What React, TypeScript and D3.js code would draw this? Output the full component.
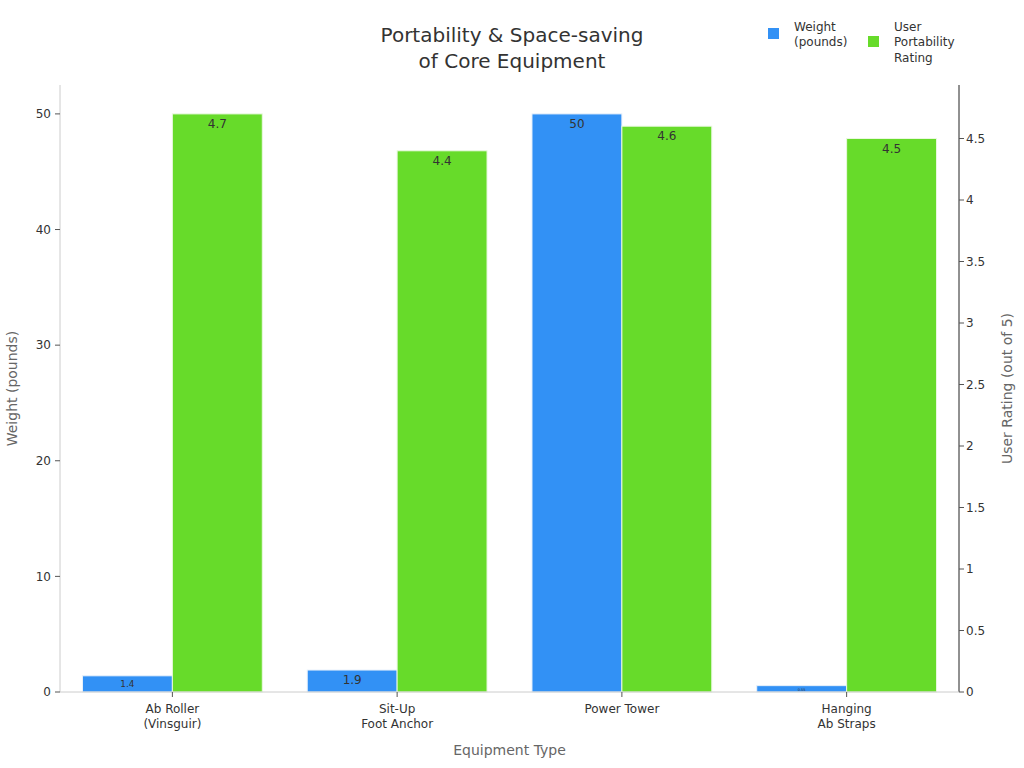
import React from "react";
import * as d3 from "d3";

const categories = ["Ab Roller\n(Vinsguir)", "Sit-Up\nFoot Anchor", "Power Tower", "Hanging\nAb Straps"];
const weights = [1.4, 1.9, 50, 0.55];
const ratings = [4.7, 4.4, 4.6, 4.5];
const leftTicks = [0, 10, 20, 30, 40, 50];
const rightTicks = [0, 0.5, 1, 1.5, 2, 2.5, 3, 3.5, 4, 4.5];

const W = 1024;
const H = 768;
const M = { top: 85, right: 65, bottom: 76, left: 60 };
const BLUE = "#3291f5";
const GREEN = "#67db2a";
const FONT = "DejaVu Sans, sans-serif";

const App: React.FC = () => {
  const x0 = d3.scaleBand<string>().domain(categories).range([M.left, W - M.right]).paddingInner(0.2).paddingOuter(0.1);
  const x1 = d3.scaleBand<string>().domain(["w", "r"]).range([0, x0.bandwidth()]);
  const yL = d3.scaleLinear().domain([0, d3.max(weights)! * 1.05]).range([H - M.bottom, M.top]);
  const yR = d3.scaleLinear().domain([0, d3.max(ratings)! * 1.05]).range([H - M.bottom, M.top]);
  const base = H - M.bottom;

  const label = (v: number, xPos: number, y: number, key: string) => {
    const h = base - y;
    const fs = Math.min(12, h * 0.55);
    return (
      <text key={key} x={xPos} y={y + fs + 2} textAnchor="middle" fontSize={fs} fill="#333" fontFamily={FONT}>
        {v}
      </text>
    );
  };

  return (
    <svg width={W} height={H} style={{ position: "absolute", left: 0, top: 0, background: "#fff" }} fontFamily={FONT}>
      <text x={512} y={42} textAnchor="middle" fontSize={20} fill="#333">Portability &amp; Space-saving</text>
      <text x={512} y={68} textAnchor="middle" fontSize={20} fill="#333">of Core Equipment</text>

      {/* legend */}
      <rect x={768} y={28} width={11} height={11} fill={BLUE} />
      <text x={794} y={31} fontSize={12} fill="#333">Weight</text>
      <text x={794} y={46} fontSize={12} fill="#333">(pounds)</text>
      <rect x={868} y={36} width={11} height={11} fill={GREEN} />
      <text x={894} y={31} fontSize={12} fill="#333">User</text>
      <text x={894} y={46} fontSize={12} fill="#333">Portability</text>
      <text x={894} y={62} fontSize={12} fill="#333">Rating</text>

      {/* bars */}
      {categories.map((c, i) => {
        const bx = x0(c)!;
        const yw = yL(weights[i]);
        const yr = yR(ratings[i]);
        return (
          <g key={c}>
            <rect x={bx + x1("w")!} y={yw} width={x1.bandwidth()} height={base - yw} fill={BLUE} stroke="#e8f1fb" strokeWidth={1} />
            <rect x={bx + x1("r")!} y={yr} width={x1.bandwidth()} height={base - yr} fill={GREEN} stroke="#e9f8df" strokeWidth={1} />
            {label(weights[i], bx + x1("w")! + x1.bandwidth() / 2, yw, "lw" + i)}
            {label(ratings[i], bx + x1("r")! + x1.bandwidth() / 2, yr, "lr" + i)}
          </g>
        );
      })}

      {/* left axis */}
      <line x1={M.left} x2={M.left} y1={M.top} y2={base} stroke="#ccc" />
      {leftTicks.map((t) => (
        <g key={"l" + t} transform={`translate(${M.left},${yL(t)})`}>
          <line x1={-5} x2={0} stroke="#555" />
          <text x={-9} dy="0.35em" textAnchor="end" fontSize={12} fill="#333">{t}</text>
        </g>
      ))}
      <text transform={`translate(17,${(M.top + base) / 2}) rotate(-90)`} textAnchor="middle" fontSize={14} fill="#666">Weight (pounds)</text>

      {/* right axis */}
      <line x1={W - M.right} x2={W - M.right} y1={M.top} y2={base} stroke="#222" />
      {rightTicks.map((t) => (
        <g key={"r" + t} transform={`translate(${W - M.right},${yR(t)})`}>
          <line x1={0} x2={5} stroke="#555" />
          <text x={7} dy="0.35em" textAnchor="start" fontSize={12} fill="#333">{t}</text>
        </g>
      ))}
      <text transform={`translate(1012,${(M.top + base) / 2}) rotate(-90)`} textAnchor="middle" fontSize={14} fill="#666">User Rating (out of 5)</text>

      {/* bottom axis */}
      <line x1={M.left} x2={W - M.right} y1={base} y2={base} stroke="#ccc" />
      {categories.map((c) => {
        const cx = x0(c)! + x0.bandwidth() / 2;
        return (
          <g key={"b" + c} transform={`translate(${cx},${base})`}>
            <line y1={0} y2={5} stroke="#555" />
            {c.split("\n").map((ln, j) => (
              <text key={j} y={21 + j * 15} textAnchor="middle" fontSize={12} fill="#333">{ln}</text>
            ))}
          </g>
        );
      })}
      <text x={(M.left + W - M.right) / 2} y={755} textAnchor="middle" fontSize={14} fill="#666">Equipment Type</text>
    </svg>
  );
};

export default App;
